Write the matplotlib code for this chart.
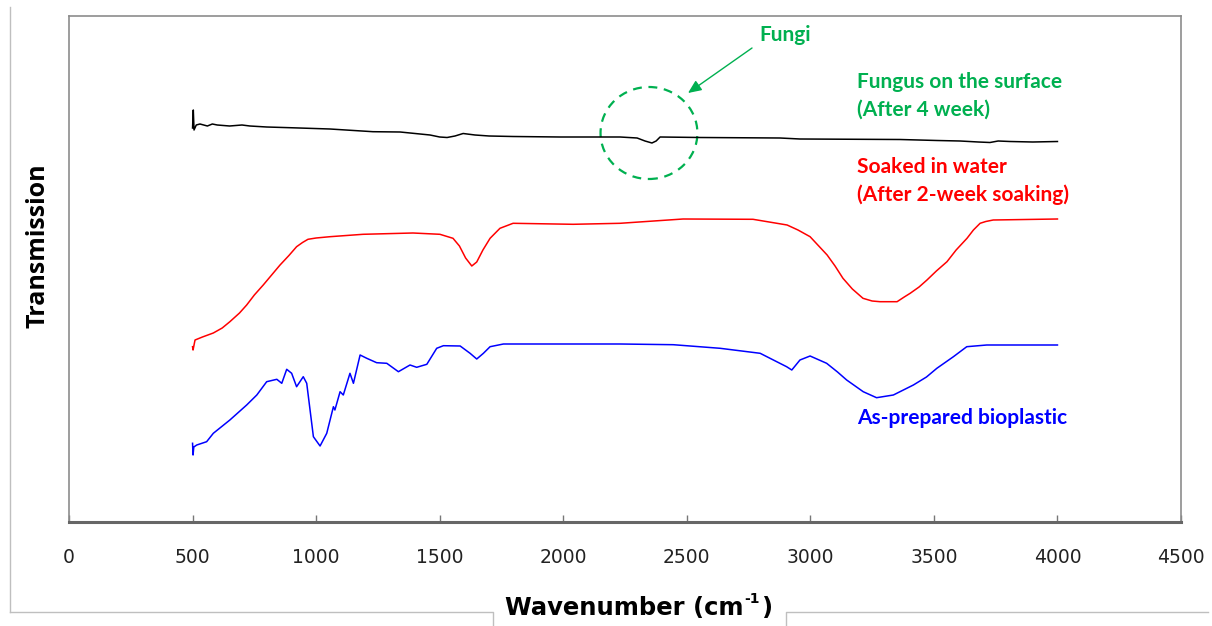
import matplotlib
matplotlib.use("Agg")
import matplotlib.pyplot as plt
from matplotlib.patches import Ellipse
from matplotlib.lines import Line2D

# ---------------- data (transmission in arbitrary units) ----------------
fungus_wn = [500, 503, 506, 515, 530, 560, 580, 600, 650, 700, 732, 800, 894, 1056,
             1230, 1340, 1461, 1500, 1530, 1562, 1595, 1643, 1700, 1797, 1987, 2230,
             2299, 2331, 2359, 2376, 2392, 2554, 2877, 2958, 3363, 3513, 3606, 3680,
             3727, 3760, 3808, 3900, 4000]
fungus_t = [394, 412, 392, 397, 398, 396, 398, 397, 396, 397, 396, 395, 394.3, 393,
            390.3, 390, 387, 385, 384.5, 386, 388.5, 387, 386, 385.5, 385, 385,
            384, 381, 379, 381, 385, 384.5, 384, 383, 382.5, 381.5, 381, 380,
            379.5, 381, 380.5, 380, 380.5]

water_wn = [500, 502, 510, 540, 584, 620, 651, 690, 719, 750, 786, 820, 854, 890, 921,
            945, 967, 1000, 1056, 1190, 1392, 1501, 1554, 1580, 1605, 1630, 1650, 1675,
            1704, 1744, 1797, 2040, 2230, 2485, 2768, 2906, 2950, 2999, 3068, 3100, 3132,
            3170, 3213, 3250, 3282, 3351, 3380, 3404, 3440, 3472, 3510, 3553, 3590, 3634,
            3660, 3687, 3710, 3740, 4000]
water_t = [175.3, 172, 182, 185, 189, 194, 200.3, 209, 217, 227, 237, 247, 257, 266.5,
           275.3, 279.5, 282.7, 284, 285.3, 287.7, 289, 287.7, 283.7, 276, 264, 256, 260,
           272, 283.7, 293.7, 298.7, 297.7, 298.7, 303, 302.7, 297, 292, 285.3, 267, 256,
           243.7, 233, 223.7, 221, 220.3, 220.3, 225, 228.7, 235, 242, 251, 260.3, 272,
           283.7, 292, 298.7, 300.5, 302, 303]

bio_wn = [500, 502, 505, 517, 557, 584, 651, 719, 760, 800, 841, 861, 881, 901, 921,
          948, 962, 989, 1016, 1043, 1070, 1076, 1097, 1110, 1137, 1151, 1178, 1205,
          1245, 1286, 1333, 1380, 1407, 1448, 1488, 1515, 1583, 1623, 1650, 1677, 1704,
          1758, 2230, 2445, 2635, 2797, 2864, 2904, 2925, 2958, 2999, 3066, 3110, 3147,
          3214, 3268, 3336, 3417, 3470, 3512, 3579, 3633, 3714, 4000]
bio_t = [78.7, 67, 75, 77, 80.3, 88.7, 102, 117, 127, 140.3, 142.7, 138.7, 152.7, 148.7,
         135.3, 145.3, 138.7, 85.3, 76, 88.7, 115.3, 112, 130.3, 127, 148.7, 138.7, 167,
         163.7, 159.3, 158.7, 150.3, 157, 154.7, 157.7, 173.7, 176.3, 176, 168.7, 163,
         168.7, 175.3, 178, 178, 177.3, 173.7, 168.7, 160.3, 155.3, 152, 162, 166, 158.7,
         150, 142, 130.3, 124.3, 127, 137, 145, 153.7, 165.3, 175.3, 177, 177]

xticks = [0, 500, 1000, 1500, 2000, 2500, 3000, 3500, 4000, 4500]
labels_fungus = ["Fungus on the surface", "(After 4 week)"]
labels_water = ["Soaked in water", "(After 2-week soaking)"]
label_bio = "As-prepared bioplastic"

GREEN = "#00B050"
RED = "#FF0000"
BLUE = "#0000FF"

W, H = 1212, 626
fig = plt.figure(figsize=(W / 100, H / 100), dpi=100)
ax = fig.add_axes([69 / W, 1 - 522 / H, (1181 - 69) / W, (522 - 16) / H])

ax.plot(fungus_wn, fungus_t, color="black", lw=1.1)
ax.plot(water_wn, water_t, color=RED, lw=1.1)
ax.plot(bio_wn, bio_t, color=BLUE, lw=1.1)

ax.set_xlim(0, 4500)
ax.set_ylim(0, 506)
ax.set_xticks(xticks)
ax.set_yticks([])

cond = ["DejaVu Sans"]
ax.set_xticklabels([str(t) for t in xticks], fontsize=13.5, family=cond, color="#222222")
ax.tick_params(axis="x", direction="in", length=5, width=1, color="#777777", pad=19)

for s in ["left", "top", "right"]:
    ax.spines[s].set_color("#8c8c8c")
    ax.spines[s].set_linewidth(1.2)
ax.spines["bottom"].set_color("#666666")
ax.spines["bottom"].set_linewidth(2.2)

bold_font = ["Lato", "DejaVu Sans"]
ax.text(3189, 440, labels_fungus[0], color=GREEN, fontsize=15, fontweight="bold",
        family=bold_font, ha="left", va="center")
ax.text(3189, 412, labels_fungus[1], color=GREEN, fontsize=15, fontweight="bold",
        family=bold_font, ha="left", va="center")
ax.text(3189, 355, labels_water[0], color=RED, fontsize=15, fontweight="bold",
        family=bold_font, ha="left", va="center")
ax.text(3189, 327, labels_water[1], color=RED, fontsize=15, fontweight="bold",
        family=bold_font, ha="left", va="center")
ax.text(3189, 104, label_bio, color=BLUE, fontsize=15, fontweight="bold",
        family=bold_font, ha="left", va="center")

ax.text(2898, 487, "Fungi", color=GREEN, fontsize=15, fontweight="bold",
        family=bold_font, ha="center", va="center")
ax.annotate("", xy=(2505, 429), xytext=(2764, 474),
            arrowprops=dict(arrowstyle="-|>,head_length=0.8,head_width=0.35",
                            color=GREEN, lw=1.0, shrinkA=0, shrinkB=0))
ax.add_patch(Ellipse((2347, 389), 392, 92, fill=False, edgecolor=GREEN,
                     lw=1.6, linestyle=(0, (4, 3))))

fig.text(38 / W, 1 - 246 / H, "Transmission", rotation=90, fontsize=18,
         fontweight="bold", family=["Open Sans", "DejaVu Sans"], ha="center", va="center")

frame_c = "#bfbfbf"
fig.add_artist(Line2D([10 / W, 10 / W], [1 - 7 / H, 1 - 612 / H], color=frame_c, lw=1.0,
                      transform=fig.transFigure))
fig.add_artist(Line2D([10 / W, 493 / W, 493 / W], [1 - 612 / H, 1 - 612 / H, 0],
                      color=frame_c, lw=1.0, transform=fig.transFigure))
fig.add_artist(Line2D([786 / W, 786 / W, 1 - 4 / W], [0, 1 - 612 / H, 1 - 612 / H],
                      color=frame_c, lw=1.0, transform=fig.transFigure))

renderer = fig.canvas.get_renderer()
t1 = fig.text(505 / W, 1 - 608 / H, "Wavenumber (cm", fontsize=17.5, fontweight="bold",
              family=cond, ha="left", va="center")
bb = t1.get_window_extent(renderer)
t2 = fig.text((bb.x1 + 1) / W, 1 - 599 / H, "-1", fontsize=10, fontweight="bold",
              family=cond, ha="left", va="center")
bb2 = t2.get_window_extent(renderer)
fig.text((bb2.x1 + 1) / W, 1 - 608 / H, ")", fontsize=17.5, fontweight="bold",
         family=cond, ha="left", va="center")

fig.savefig("out.png", dpi=100)
